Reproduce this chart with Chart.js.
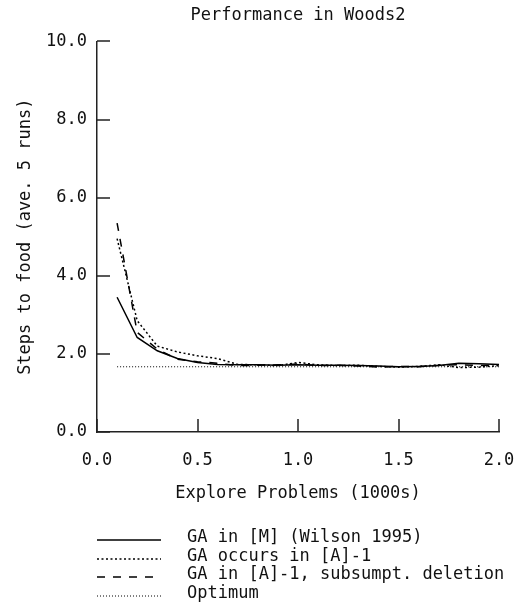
<!DOCTYPE html>
<html>
<head>
<meta charset="utf-8">
<script src="https://cdn.jsdelivr.net/npm/chart.js@4/dist/chart.umd.min.js"></script>
<style>
  body { margin: 0; background: #fff; }
  #wrap { width: 521px; height: 609px; }
</style>
</head>
<body>
<div id="wrap"><canvas id="woods-chart" width="521" height="609"></canvas></div>
<script>
// Explore problems (in 1000s)
var problems = [0.1, 0.2, 0.3, 0.4, 0.5, 0.6, 0.7, 0.8, 0.9, 1.0, 1.1, 1.2, 1.3, 1.4, 1.5, 1.6, 1.7, 1.8, 1.9, 2.0];

// steps to food, averaged over 5 runs
var gaInM = [3.45, 2.42, 2.08, 1.88, 1.78, 1.73, 1.72, 1.72, 1.71, 1.72, 1.71, 1.71, 1.70, 1.69, 1.67, 1.68, 1.70, 1.76, 1.75, 1.73];
var gaOccurs = [4.95, 2.85, 2.20, 2.05, 1.95, 1.88, 1.73, 1.72, 1.70, 1.78, 1.72, 1.70, 1.71, 1.68, 1.66, 1.68, 1.72, 1.65, 1.66, 1.70];
var gaSubsumpt = [5.35, 2.55, 2.12, 1.86, 1.80, 1.76, 1.70, 1.71, 1.72, 1.74, 1.70, 1.71, 1.69, 1.66, 1.68, 1.67, 1.71, 1.72, 1.70, 1.72];
var optimum = [1.67, 1.67, 1.67, 1.67, 1.67, 1.67, 1.67, 1.67, 1.67, 1.67, 1.67, 1.67, 1.67, 1.67, 1.67, 1.67, 1.67, 1.67, 1.67, 1.67];

var seriesNames = ['GA in [M] (Wilson 1995)', 'GA occurs in [A]-1', 'GA in [A]-1, subsumpt. deletion', 'Optimum'];

var yTicks = [0, 2, 4, 6, 8, 10];
var xTicks = [0, 0.5, 1.0, 1.5, 2.0];

var fontName = '"DejaVu Sans Mono", "Liberation Mono", monospace';

var toPoints = (ys) => problems.map((x, i) => ({ x: x, y: ys[i] }));

// Ticks nach innen + Legende unten links
var plotExtras = {
    id: 'plotExtras',
    afterDraw: (chart) => {
        var ctx = chart.ctx;
        var area = chart.chartArea;
        var xs = chart.scales.x;
        var ys = chart.scales.y;
        ctx.save();
        ctx.strokeStyle = '#222';
        ctx.lineWidth = 1.5;
        ctx.setLineDash([]);
        ctx.beginPath();
        xTicks.forEach((v) => {
            var px = Math.round(xs.getPixelForValue(v));
            ctx.moveTo(px, area.bottom);
            ctx.lineTo(px, area.bottom - 13);
        });
        yTicks.forEach((v) => {
            var py = Math.round(ys.getPixelForValue(v));
            ctx.moveTo(area.left, py);
            ctx.lineTo(area.left + 13, py);
        });
        ctx.stroke();

        // Legende
        var rowY = [538, 557, 575, 594];
        chart.data.datasets.forEach((ds, i) => {
            var y = rowY[i];
            ctx.strokeStyle = ds.borderColor;
            ctx.lineWidth = ds.borderWidth;
            ctx.setLineDash(ds.borderDash || []);
            ctx.beginPath();
            ctx.moveTo(area.left, y + 2);
            ctx.lineTo(area.left + 64, y + 2);
            ctx.stroke();
            ctx.setLineDash([]);
            ctx.fillStyle = '#111';
            ctx.font = '17px ' + fontName;
            ctx.textAlign = 'left';
            ctx.textBaseline = 'middle';
            ctx.fillText(ds.label, area.left + 90, y);
        });
        ctx.restore();
    }
};

var ctx = document.getElementById('woods-chart').getContext('2d');
var chart = new Chart(ctx, {
    type: 'line',
    data: {
        datasets: [
            { label: seriesNames[0], data: toPoints(gaInM), borderColor: '#000', borderWidth: 1.5, borderDash: [] },
            { label: seriesNames[1], data: toPoints(gaOccurs), borderColor: '#000', borderWidth: 1.5, borderDash: [2, 2.5] },
            { label: seriesNames[2], data: toPoints(gaSubsumpt), borderColor: '#000', borderWidth: 1.5, borderDash: [8, 8] },
            { label: seriesNames[3], data: toPoints(optimum), borderColor: '#000', borderWidth: 1, borderDash: [1, 2] }
        ]
    },
    options: {
        responsive: false,
        animation: false,
        elements: { point: { radius: 0 }, line: { tension: 0, fill: false } },
        layout: { padding: { left: 0, right: 22, top: 0, bottom: 105 } },
        plugins: {
            legend: { display: false },
            tooltip: { enabled: false },
            title: {
                display: true,
                fullSize: false,
                text: 'Performance in Woods2',
                color: '#111',
                font: { family: fontName, size: 17, weight: 'normal' },
                padding: { top: 5, bottom: 16 }
            }
        },
        scales: {
            x: {
                type: 'linear',
                min: 0, max: 2,
                afterFit: (scale) => { scale.height = 72; scale.paddingRight = 0; scale.paddingLeft = 0; },
                afterBuildTicks: (scale) => { scale.ticks = xTicks.map((v) => ({ value: v })); },
                ticks: {
                    color: '#111',
                    padding: 18,
                    maxRotation: 0,
                    font: { family: fontName, size: 17 },
                    callback: (v) => Number(v).toFixed(1)
                },
                grid: { display: true, drawOnChartArea: false, drawTicks: false },
                border: { display: true, color: '#222', width: 1.5 },
                title: {
                    display: true,
                    text: 'Explore Problems (1000s)',
                    color: '#111',
                    font: { family: fontName, size: 17 },
                    padding: { top: 0, bottom: 0 }
                }
            },
            y: {
                min: 0, max: 10,
                afterFit: (scale) => { scale.width = 97; },
                afterBuildTicks: (scale) => { scale.ticks = yTicks.map((v) => ({ value: v })); },
                ticks: {
                    color: '#111',
                    padding: 10,
                    font: { family: fontName, size: 17 },
                    callback: (v) => Number(v).toFixed(1)
                },
                grid: { display: true, drawOnChartArea: false, drawTicks: false },
                border: { display: true, color: '#222', width: 1.5 },
                title: {
                    display: true,
                    text: 'Steps to food (ave. 5 runs)',
                    color: '#111',
                    font: { family: fontName, size: 17 },
                    padding: { top: 15, bottom: 0 }
                }
            }
        }
    },
    plugins: [plotExtras]
});
</script>
</body>
</html>
